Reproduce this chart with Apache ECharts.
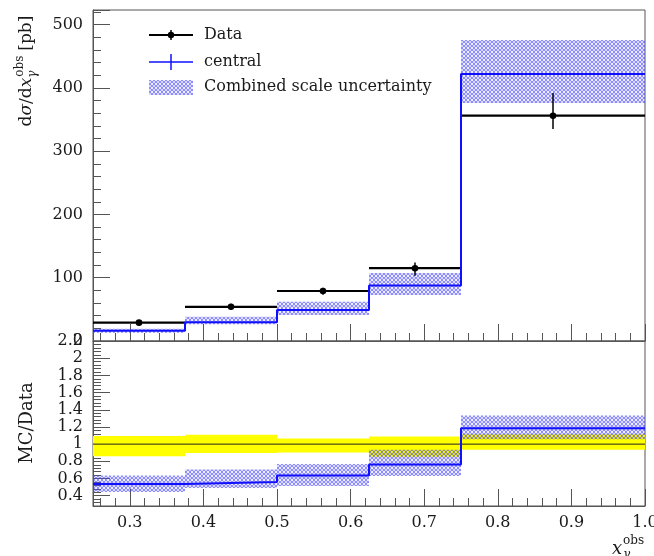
<!DOCTYPE html>
<html>
<head>
<meta charset="utf-8">
<script src="https://cdn.jsdelivr.net/npm/echarts@6/dist/echarts.min.js"></script>
<style>
  html, body { margin: 0; padding: 0; background: #fff; }
  #chart { width: 654px; height: 556px; }
</style>
</head>
<body>
<div id="chart"></div>
<script>
// Bin edges of the x_gamma^obs distribution
const binEdges = [0.25, 0.375, 0.5, 0.625, 0.75, 1.0];

// Upper panel: cross section [pb]
const dataValues = [29, 54, 79, 115, 356];
const dataErrUp = [2.8, 5, 5, 9, 36];
const dataErrDown = [4, 5, 6, 12, 21];
const centralValues = [16, 29.5, 49, 87.5, 422];
const scaleBandLow = [13, 26.5, 41, 72.5, 376];
const scaleBandHigh = [19.5, 38.4, 62, 107.5, 475.5];

// Lower panel: MC / Data
const ratioCentral = [0.536, 0.559, 0.635, 0.762, 1.184];
const ratioBandLow = [0.444, 0.49, 0.513, 0.628, 1.058];
const ratioBandHigh = [0.635, 0.704, 0.77, 0.934, 1.334];
const ratioDataLow = [0.858, 0.896, 0.904, 0.854, 0.934];
const ratioDataHigh = [1.096, 1.11, 1.066, 1.089, 1.115];

const legendLabels = ['Data', 'central', 'Combined scale uncertainty'];

const SERIF = '"DejaVu Serif", serif';
const TXT = '#1a1a1a';
const FRAME = '#555';
const BLUE = '#1010ff';

// cross-hatch fill used for the scale uncertainty bands
function hatchPattern() {
  const c = document.createElement('canvas');
  c.width = 4; c.height = 4;
  const g = c.getContext('2d');
  g.strokeStyle = 'rgba(70,70,255,0.8)';
  g.lineWidth = 0.9;
  g.beginPath();
  g.arc(2, 2, 1.5, 0, Math.PI * 2);
  g.stroke();
  return { image: c, repeat: 'repeat' };
}
const HATCH = hatchPattern();

// helpers that build series data from the arrays above
function stepPoints(values) {
  const pts = [];
  values.forEach((v, i) => { pts.push([binEdges[i], v]); pts.push([binEdges[i + 1], v]); });
  return pts;
}
function bandItems(lo, hi) {
  return lo.map((l, i) => [binEdges[i], binEdges[i + 1], l, hi[i]]);
}
function bandSeries(items, fill, xIdx, yIdx) {
  return {
    type: 'custom', xAxisIndex: xIdx, yAxisIndex: yIdx, clip: true, silent: true,
    data: items,
    renderItem: function (params, api) {
      const p1 = api.coord([api.value(0), api.value(3)]);
      const p2 = api.coord([api.value(1), api.value(2)]);
      return { type: 'rect', shape: { x: p1[0], y: p1[1], width: p2[0] - p1[0], height: p2[1] - p1[1] },
               style: { fill: fill, stroke: null } };
    }
  };
}
const dataItems = dataValues.map((v, i) => [binEdges[i], binEdges[i + 1], (binEdges[i] + binEdges[i + 1]) / 2,
  v, v - dataErrDown[i], v + dataErrUp[i]]);

const tickFont = { fontFamily: SERIF, fontSize: 16, color: TXT };
const commonX = {
  type: 'value', min: 0.25, max: 1.0, splitNumber: 8,
  axisLine: { show: true, lineStyle: { color: FRAME, width: 1 } },
  axisTick: { show: true, inside: true, length: 17, lineStyle: { color: FRAME } },
  minorTick: { show: true, splitNumber: 5, length: 8, lineStyle: { color: FRAME } },
  splitLine: { show: false }
};

// measure text to lay out the axis titles
const mctx = document.createElement('canvas').getContext('2d');
function tw(font, s) { mctx.font = font; return mctx.measureText(s).width; }

function yTitleTop() {
  const fN = '17px ' + SERIF, fI = 'italic 17px ' + SERIF, fS = '12px ' + SERIF, fSI = 'italic 12px ' + SERIF;
  const parts = [];
  let x = 0;
  [['d', fN], ['σ', fI], ['/d', fN], ['x', fI]].forEach(([s, f]) => {
    parts.push({ type: 'text', x: x, y: 0, style: { text: s, font: f, fill: TXT, verticalAlign: 'middle' } });
    x += tw(f, s);
  });
  parts.push({ type: 'text', x: x + 1, y: -7, style: { text: 'obs', font: fS, fill: TXT, verticalAlign: 'middle' } });
  parts.push({ type: 'text', x: x, y: 6, style: { text: 'γ', font: fSI, fill: TXT, verticalAlign: 'middle' } });
  x += tw(fS, 'obs') + 6;
  parts.push({ type: 'text', x: x, y: 0, style: { text: '[pb]', font: fN, fill: TXT, verticalAlign: 'middle' } });
  x += tw(fN, '[pb]');
  return { type: 'group', x: 27, y: 71 + x / 2, rotation: Math.PI / 2, children: parts };
}

function legendGraphic() {
  const x0 = 149, x1 = 193, tx = 204, rows = [35, 62, 87];
  const f = '16px ' + SERIF;
  return {
    type: 'group', children: [
      { type: 'line', shape: { x1: x0, y1: rows[0], x2: x1, y2: rows[0] }, style: { stroke: '#000', lineWidth: 2 } },
      { type: 'line', shape: { x1: 171, y1: rows[0] - 5, x2: 171, y2: rows[0] + 5 }, style: { stroke: '#000', lineWidth: 1.5 } },
      { type: 'circle', shape: { cx: 171, cy: rows[0], r: 3.2 }, style: { fill: '#000' } },
      { type: 'line', shape: { x1: x0, y1: rows[1], x2: x1, y2: rows[1] }, style: { stroke: BLUE, lineWidth: 1.5 } },
      { type: 'line', shape: { x1: 171, y1: rows[1] - 8, x2: 171, y2: rows[1] + 8 }, style: { stroke: BLUE, lineWidth: 1.5 } },
      { type: 'rect', shape: { x: x0, y: rows[2] - 7, width: x1 - x0, height: 15 }, style: { fill: HATCH } },
      { type: 'text', x: tx, y: rows[0], style: { text: legendLabels[0], font: f, fill: TXT, verticalAlign: 'middle' } },
      { type: 'text', x: tx, y: rows[1], style: { text: legendLabels[1], font: f, fill: TXT, verticalAlign: 'middle' } },
      { type: 'text', x: tx, y: rows[2], style: { text: legendLabels[2], font: f, fill: TXT, verticalAlign: 'middle' } }
    ]
  };
}

const chart = echarts.init(document.getElementById('chart'), null, { renderer: 'canvas' });
chart.setOption({
  animation: false,
  backgroundColor: '#fff',
  grid: [
    { left: 93, top: 10, width: 552, height: 331, show: true, borderColor: FRAME, borderWidth: 1,
      backgroundColor: 'transparent', containLabel: false, outerBoundsMode: 'none' },
    { left: 93, top: 341, width: 552, height: 165, show: true, borderColor: FRAME, borderWidth: 1,
      backgroundColor: 'transparent', containLabel: false, outerBoundsMode: 'none' }
  ],
  xAxis: [
    Object.assign({}, commonX, { gridIndex: 0, axisLabel: { show: false } }),
    Object.assign({}, commonX, { gridIndex: 1,
      axisLabel: Object.assign({ show: true, margin: 9, showMinLabel: false,
        formatter: v => v.toFixed(1) }, tickFont) })
  ],
  yAxis: [
    { type: 'value', gridIndex: 0, min: 0, max: 523, interval: 100,
      axisLine: { show: true, lineStyle: { color: FRAME } },
      axisTick: { show: true, inside: true, length: 17, lineStyle: { color: FRAME } },
      minorTick: { show: true, splitNumber: 5, length: 8, lineStyle: { color: FRAME } },
      splitLine: { show: false },
      axisLabel: Object.assign({ margin: 10, showMaxLabel: false }, tickFont) },
    { type: 'value', gridIndex: 1, min: 0.28, max: 2.2, splitNumber: 9,
      axisLine: { show: true, lineStyle: { color: FRAME } },
      axisTick: { show: true, inside: true, length: 17, lineStyle: { color: FRAME } },
      minorTick: { show: true, splitNumber: 5, length: 8, lineStyle: { color: FRAME } },
      splitLine: { show: false },
      axisLabel: Object.assign({ margin: 10, showMinLabel: false,
        formatter: v => String(Math.round(v * 10) / 10) }, tickFont) }
  ],
  series: [
    // upper panel
    bandSeries(bandItems(scaleBandLow, scaleBandHigh), HATCH, 0, 0),
    { type: 'line', xAxisIndex: 0, yAxisIndex: 0, data: stepPoints(centralValues), showSymbol: false,
      lineStyle: { color: BLUE, width: 2 }, silent: true },
    { type: 'custom', xAxisIndex: 0, yAxisIndex: 0, silent: true, data: dataItems,
      renderItem: function (params, api) {
        const a = api.coord([api.value(0), api.value(3)]);
        const b = api.coord([api.value(1), api.value(3)]);
        const c = api.coord([api.value(2), api.value(3)]);
        const lo = api.coord([api.value(2), api.value(4)]);
        const hi = api.coord([api.value(2), api.value(5)]);
        return { type: 'group', children: [
          { type: 'line', shape: { x1: a[0], y1: a[1], x2: b[0], y2: b[1] }, style: { stroke: '#000', lineWidth: 2.2 } },
          { type: 'line', shape: { x1: lo[0], y1: lo[1], x2: hi[0], y2: hi[1] }, style: { stroke: '#000', lineWidth: 1.5 } },
          { type: 'circle', shape: { cx: c[0], cy: c[1], r: 3.3 }, style: { fill: '#000' } }
        ] };
      } },
    // lower panel
    bandSeries(bandItems(ratioDataLow, ratioDataHigh), '#ffff00', 1, 1),
    { type: 'line', xAxisIndex: 1, yAxisIndex: 1, data: [[binEdges[0], 1], [binEdges[binEdges.length - 1], 1]],
      showSymbol: false, lineStyle: { color: '#222', width: 1 }, silent: true },
    bandSeries(bandItems(ratioBandLow, ratioBandHigh), HATCH, 1, 1),
    { type: 'line', xAxisIndex: 1, yAxisIndex: 1, data: stepPoints(ratioCentral), showSymbol: false,
      lineStyle: { color: BLUE, width: 2 }, silent: true }
  ],
  graphic: [
    yTitleTop(),
    { type: 'text', x: 27, y: 423, rotation: Math.PI / 2,
      style: { text: 'MC/Data', font: '18px ' + SERIF, fill: TXT, align: 'center', verticalAlign: 'middle' } },
    { type: 'group', children: [
      { type: 'text', x: 612, y: 549, style: { text: 'x', font: 'italic 18px ' + SERIF, fill: TXT, verticalAlign: 'middle' } },
      { type: 'text', x: 623, y: 541, style: { text: 'obs', font: '12px ' + SERIF, fill: TXT, verticalAlign: 'middle' } },
      { type: 'text', x: 623, y: 555, style: { text: 'γ', font: 'italic 12px ' + SERIF, fill: TXT, verticalAlign: 'middle' } }
    ] },
    legendGraphic()
  ]
});
</script>
</body>
</html>
